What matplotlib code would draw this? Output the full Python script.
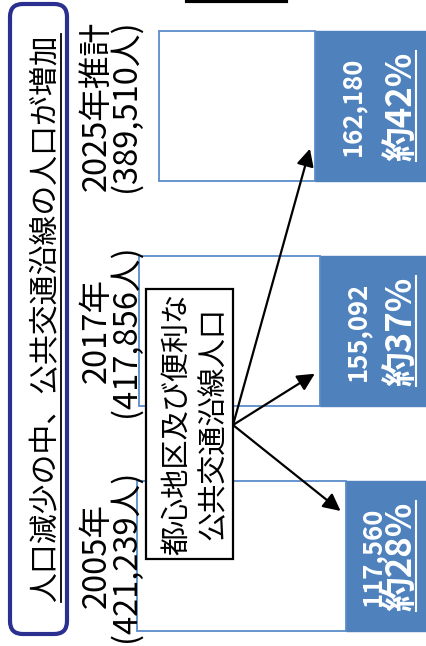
import numpy as np
import matplotlib.pyplot as plt
from matplotlib.patches import FancyBboxPatch, Rectangle
from matplotlib.lines import Line2D
from matplotlib.transforms import blended_transform_factory

plt.rcParams['font.family'] = ['Noto Sans CJK JP', 'DejaVu Sans']

# data
years = ['2005年', '2017年', '2025年推計']
total_labels = ['(421,239人)', '(417,856人)', '(389,510人)']
totals = [421239, 417856, 389510]
transit = [117560, 155092, 162180]
transit_labels = ['117,560', '155,092', '162,180']
shares = ['約28%', '約37%', '約42%']
title = '人口減少の中、公共交通沿線の人口が増加'
note = '都心地区及び便利な\n公共交通沿線人口'

W, H = 427, 646
fig = plt.figure(figsize=(W / 100, H / 100), dpi=100)
ax = fig.add_axes([0, 0, 1, 1])
ax.axis('off')

blue = '#4F81BD'
y = np.arange(len(years))
rest = [t - v for t, v in zip(totals, transit)]
ax.barh(y, transit, height=0.667, color=blue, edgecolor=blue, lw=1)
ax.barh(y, rest, left=transit, height=0.667, color='white', edgecolor='#5B8CC8', lw=1.3)
ax.set_xlim(620600, 0)
ax.set_ylim(-0.4, 2.471)


def pt(v):
    # pixels -> points
    return v * 0.72


# labels inside the blue part (baseline = right side of rotated text)
num_base = [47, 62, 67]   # px left of the bar base
pct_base = 16
underline_texts = []
for i in range(len(years)):
    ax.annotate(transit_labels[i], xy=(0, y[i]), xytext=(pt(-num_base[i]), 0),
                textcoords='offset points', rotation=90, rotation_mode='anchor',
                ha='center', va='baseline', color='white', fontsize=18.5, fontweight='bold')
    t = ax.annotate(shares[i], xy=(0, y[i]), xytext=(pt(-pct_base), 0),
                    textcoords='offset points', rotation=90, rotation_mode='anchor',
                    ha='center', va='baseline', color='white', fontsize=25, fontweight='bold')
    underline_texts.append((t, 'white', 1.5, -2))

# year labels on the left
bt = blended_transform_factory(fig.transFigure, ax.transData)
for i in range(len(years)):
    fig.text(106 / W, y[i], years[i], transform=bt, rotation=90, rotation_mode='anchor',
             ha='center', va='baseline', fontsize=23.5)
    fig.text(135 / W, y[i], total_labels[i], transform=bt, rotation=90,
             rotation_mode='anchor', ha='center', va='baseline', fontsize=23.5)

# title box
box = FancyBboxPatch((10 / W, 1 - 634 / H), 57 / W, 630 / H, transform=fig.transFigure,
                     boxstyle='round,pad=0,rounding_size=0.03', mutation_aspect=W / H,
                     fc='white', ec='#2B2F8F', lw=3)
fig.patches.append(box)
tt = fig.text(54 / W, 1 - 318 / H, title, rotation=90, rotation_mode='anchor',
              ha='center', va='baseline', fontsize=21.5)
underline_texts.append((tt, 'black', 1.3, 0))

# note box
fig.patches.append(Rectangle((146 / W, 1 - 559 / H), 87 / W, 270 / H, transform=fig.transFigure,
                             fc='white', ec='black', lw=1.6))
note_lines = note.split('\n')
fig.text(185 / W, 1 - 424 / H, note_lines[0], rotation=90, rotation_mode='anchor',
         ha='center', va='baseline', fontsize=21)
fig.text(222 / W, 1 - 424 / H, note_lines[1], rotation=90, rotation_mode='anchor',
         ha='center', va='baseline', fontsize=21)

# arrows
dy = [0.2, -0.19, -0.19]
for i in range(len(years)):
    ax.annotate('', xy=(transit[i] + 8000, y[i] + dy[i]), xycoords='data',
                xytext=(233 / W, 1 - 425 / H), textcoords='figure fraction',
                arrowprops=dict(arrowstyle='-|>', color='black', lw=1.6, mutation_scale=26,
                                shrinkA=0, shrinkB=0))

# line at the top edge
fig.add_artist(Line2D([187 / W, 286 / W], [1 - 1 / H, 1 - 1 / H], transform=fig.transFigure,
                      color='black', lw=3))

# underlines (right side of rotated text)
fig.canvas.draw()
r = fig.canvas.get_renderer()
for t, c, lw, off in underline_texts:
    bb = t.get_window_extent(r)
    x = (bb.x1 + off) / W
    fig.add_artist(Line2D([x, x], [bb.y0 / H, bb.y1 / H], transform=fig.transFigure,
                          color=c, lw=lw))

fig.savefig('out.png', dpi=100)
